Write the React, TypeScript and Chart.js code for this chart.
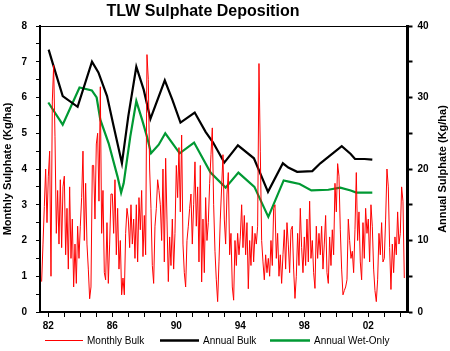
import React, { useEffect, useRef } from 'react';
import { Chart, registerables } from 'chart.js';

Chart.register(...registerables);

const FONT = '"Liberation Sans", Arial, Helvetica, sans-serif';

const TITLE = 'TLW Sulphate Deposition';
const LEFT_TITLE = 'Monthly Sulphate (Kg/ha)';
const RIGHT_TITLE = 'Annual Sulphate (Kg/ha)';
const SERIES_NAMES = ['Monthly Bulk', 'Annual Bulk', 'Annual Wet-Only'];
const SERIES_COLORS = ['#FF0000', '#000000', '#009933'];

// Monthly bulk deposition (Kg/ha), starting August 1981
const MONTHLY_START_YEAR = 1981;
const MONTHLY_START_MONTH = 8;
const monthlyBulk = [
  // 1981 (Aug-Dec)
  0.85, 1.9, 2.95, 4.0, 2.5,
  // 1982
  3.8, 4.5, 1.0, 5.9, 6.9, 4.9, 2.2, 3.4, 1.9, 3.7, 1.8, 3.5,
  // 1983
  3.8, 1.6, 2.9, 1.2, 3.5, 1.5, 2.6, 0.7, 1.9, 0.8, 2.4, 1.5,
  // 1984
  2.4, 3.2, 4.5, 2.0, 3.6, 1.9, 1.2, 0.37, 0.7, 4.1, 4.1, 2.6,
  // 1985
  4.7, 5.0, 3.1, 6.3, 2.2, 3.4, 1.1, 0.9, 2.5, 0.8, 1.9, 3.3,
  // 1986
  3.3, 2.2, 3.7, 1.6, 2.9, 1.2, 2.0, 0.48, 0.95, 0.48, 2.2, 2.9,
  // 1987
  2.6, 1.8, 3.0, 1.9, 2.6, 1.5, 3.0, 1.4, 3.2, 2.3, 3.4, 1.55,
  // 1988
  2.7, 1.6, 7.2, 6.5, 4.0, 2.9, 1.3, 0.8, 2.4, 2.9, 3.7, 3.4,
  // 1989
  3.0, 2.0, 4.0, 1.4, 4.3, 2.6, 0.85, 2.1, 1.3, 2.6, 1.2, 2.2,
  // 1990
  4.1, 3.2, 4.6, 2.8, 4.95, 1.9, 1.1, 0.7, 2.0, 2.4, 2.9, 3.3,
  // 1991
  1.9, 3.0, 4.2, 2.4, 3.5, 1.4, 4.1, 0.84, 2.6, 1.1, 3.2, 2.0,
  // 1992
  2.5, 3.6, 4.4, 5.15, 3.0, 1.7, 0.9, 0.29, 1.4, 2.6, 3.5, 4.4,
  // 1993
  2.6, 1.9, 3.3, 3.9, 1.6, 2.2, 0.7, 0.33, 2.0, 1.3, 2.2, 1.6,
  // 1994
  2.1, 3.0, 1.8, 2.7, 1.6, 2.5, 0.65, 2.0, 1.3, 2.4, 1.4, 2.2,
  // 1995
  1.9, 2.4, 6.95, 4.5, 2.0, 1.4, 0.9, 1.6, 1.1, 1.5, 1.0, 2.0,
  // 1996
  1.3, 2.9, 3.0, 1.5, 2.2, 1.0, 1.6, 0.8, 1.6, 2.3, 1.2, 2.5,
  // 1997
  1.9, 1.1, 2.3, 2.4, 1.2, 0.38, 1.0, 2.2, 1.3, 2.9, 1.8, 1.1,
  // 1998
  2.1, 1.3, 2.6, 1.4, 3.1, 1.5, 2.0, 1.1, 0.66, 2.4, 1.5, 2.2,
  // 1999
  1.6, 2.4, 1.2, 1.9, 2.7, 1.1, 0.8, 2.1, 1.3, 2.3, 1.6, 3.6,
  // 2000
  2.8, 4.15, 3.8, 2.3, 1.2, 0.48, 0.6, 0.7, 0.9, 2.6, 2.0, 1.5,
  // 2001
  1.7, 1.1, 2.3, 3.9, 2.0, 2.8, 1.4, 0.9, 2.5, 1.5, 2.9, 2.2,
  // 2002
  2.6, 1.4, 3.0, 2.4, 1.2, 0.6, 0.29, 0.9, 2.2, 1.6, 2.5, 1.4,
  // 2003
  1.5, 2.6, 4.0, 3.5, 1.8, 0.63, 1.9, 1.1, 2.1, 1.6, 2.8, 1.9,
  // 2004 (Jan-Apr)
  2.2, 3.5, 3.1, 0.95,
];

// Annual bulk deposition (Kg/ha), right axis
const annualBulkYears = [
  1982.02, 1982.3, 1982.9, 1983.83, 1984.73, 1985.13, 1985.67, 1986.08, 1986.6, 1987.0,
  1987.5, 1987.96, 1988.38, 1989.28, 1989.75, 1990.26, 1991.15, 1991.83, 1992.3, 1993.0,
  1993.85, 1994.85, 1995.73, 1996.66, 1997.0, 1997.55, 1998.5, 1999.0, 2000.34, 2000.9,
  2001.17, 2001.77, 2002.25,
];
const annualBulk = [
  36.7, 34.6, 30.2, 28.7, 35.0, 33.5, 30.2, 26.0, 20.8, 27.4,
  34.3, 31.1, 27.0, 32.4, 29.7, 26.5, 27.9, 25.2, 23.7, 20.9,
  23.3, 21.5, 16.8, 20.8, 20.2, 19.6, 19.7, 20.8, 23.2, 22.1,
  21.4, 21.4, 21.3,
];

// Annual wet-only deposition (Kg/ha), right axis
const annualWetYears = [
  1982.0, 1982.9, 1983.95, 1984.72, 1985.02, 1985.25, 1985.77, 1986.33, 1986.55, 1986.71,
  1987.12, 1987.5, 1987.86, 1988.17, 1988.42, 1988.9, 1989.31, 1990.21, 1991.11, 1992.14,
  1993.08, 1993.88, 1994.88, 1995.75, 1996.71, 1997.1, 1997.71, 1998.44, 1999.5, 2000.25,
  2000.9, 2001.25, 2002.25,
];
const annualWetOnly = [
  29.3, 26.2, 31.4, 31.0, 30.0, 26.9, 23.6, 18.9, 16.7, 18.0,
  24.5, 29.5, 26.9, 24.5, 22.2, 23.4, 25.0, 22.2, 23.7, 19.5,
  17.4, 19.5, 17.5, 13.3, 18.4, 18.2, 17.9, 17.0, 17.1, 17.4,
  17.0, 16.7, 16.7,
];

const xTickYears = [
  1982, 1983, 1984, 1985, 1986, 1987, 1988, 1989, 1990, 1991, 1992, 1993,
  1994, 1995, 1996, 1997, 1998, 1999, 2000, 2001, 2002, 2003, 2004,
];
const xLabelYears = [1982, 1986, 1990, 1994, 1998, 2002];
const X_MIN = 1981.48;
const X_MAX = 2004.45;

const decorPlugin = {
  id: 'decor',
  afterDraw(chart: any) {
    const { ctx, chartArea } = chart;
    ctx.save();
    // top frame line
    ctx.strokeStyle = '#000';
    ctx.lineWidth = 1.2;
    ctx.beginPath();
    ctx.moveTo(chartArea.left, chartArea.top + 0.5);
    ctx.lineTo(chartArea.right, chartArea.top + 0.5);
    ctx.stroke();

    // title
    ctx.fillStyle = '#000';
    ctx.font = `bold 16px ${FONT}`;
    ctx.textAlign = 'center';
    ctx.textBaseline = 'alphabetic';
    ctx.fillText(TITLE, 203, 15.5);

    // right axis title (reads bottom to top)
    ctx.save();
    ctx.translate(443, (chartArea.top + chartArea.bottom) / 2);
    ctx.rotate(-Math.PI / 2);
    ctx.font = `bold 11px ${FONT}`;
    ctx.textAlign = 'center';
    ctx.textBaseline = 'middle';
    ctx.fillText(RIGHT_TITLE, 0, 0);
    ctx.restore();

    // legend
    const items = [
      { x: 45, w: 38, lw: 1 },
      { x: 160, w: 39, lw: 2.5 },
      { x: 270, w: 40, lw: 2.5 },
    ];
    ctx.font = `10px ${FONT}`;
    ctx.textAlign = 'left';
    ctx.textBaseline = 'alphabetic';
    items.forEach((it, i) => {
      ctx.strokeStyle = SERIES_COLORS[i];
      ctx.lineWidth = it.lw;
      ctx.beginPath();
      ctx.moveTo(it.x, 340.5);
      ctx.lineTo(it.x + it.w, 340.5);
      ctx.stroke();
      ctx.fillStyle = '#000';
      ctx.fillText(SERIES_NAMES[i], it.x + it.w + 4, 343.5);
    });
    ctx.restore();
  },
};

export default function App() {
  const canvasRef = useRef<HTMLCanvasElement | null>(null);

  useEffect(() => {
    const canvas = canvasRef.current;
    if (!canvas) return;

    const monthlyPoints = monthlyBulk.map((v, i) => ({
      x: MONTHLY_START_YEAR + (MONTHLY_START_MONTH - 1 + i) / 12,
      y: v,
    }));
    const bulkPoints = annualBulk.map((v, i) => ({ x: annualBulkYears[i], y: v }));
    const wetPoints = annualWetOnly.map((v, i) => ({ x: annualWetYears[i], y: v }));

    const tickFont = { family: FONT, size: 10, weight: 'bold' as const };

    const chart = new Chart(canvas, {
      type: 'line',
      data: {
        datasets: [
          {
            label: SERIES_NAMES[0],
            data: monthlyPoints,
            borderColor: SERIES_COLORS[0],
            backgroundColor: SERIES_COLORS[0],
            borderWidth: 1,
            borderJoinStyle: 'bevel',
            pointRadius: 0,
            tension: 0,
            xAxisID: 'x',
            yAxisID: 'y',
          },
          {
            label: SERIES_NAMES[1],
            data: bulkPoints,
            borderColor: SERIES_COLORS[1],
            backgroundColor: SERIES_COLORS[1],
            borderWidth: 2.2,
            pointRadius: 0,
            tension: 0,
            xAxisID: 'x',
            yAxisID: 'y2',
          },
          {
            label: SERIES_NAMES[2],
            data: wetPoints,
            borderColor: SERIES_COLORS[2],
            backgroundColor: SERIES_COLORS[2],
            borderWidth: 2.2,
            pointRadius: 0,
            tension: 0,
            xAxisID: 'x',
            yAxisID: 'y2',
          },
        ],
      },
      options: {
        responsive: false,
        animation: false,
        events: [],
        layout: { padding: { top: 26, left: 0, right: 0, bottom: 0 } },
        plugins: {
          legend: { display: false },
          title: { display: false },
          tooltip: { enabled: false },
        },
        scales: {
          x: {
            type: 'linear',
            position: 'bottom',
            min: X_MIN,
            max: X_MAX,
            afterBuildTicks: (s: any) => {
              s.ticks = xTickYears.map((v) => ({ value: v }));
            },
            afterFit: (s: any) => {
              s.height = 39;
            },
            grid: {
              drawOnChartArea: false,
              drawTicks: true,
              tickLength: 5,
              tickColor: '#000',
              tickWidth: 1,
              color: '#000',
            },
            border: { display: true, color: '#000', width: 2 },
            ticks: {
              autoSkip: false,
              maxRotation: 0,
              padding: 3,
              color: '#000',
              font: tickFont,
              callback: (v: any) =>
                xLabelYears.includes(Number(v)) ? String(Number(v) % 100).padStart(2, '0') : '',
            },
          },
          y: {
            type: 'linear',
            position: 'left',
            min: 0,
            max: 8,
            afterFit: (s: any) => {
              s.width = 40;
            },
            grid: {
              drawOnChartArea: false,
              drawTicks: true,
              tickLength: 4,
              tickColor: '#000',
              tickWidth: 1,
              color: '#000',
            },
            border: { display: true, color: '#000', width: 2 },
            ticks: {
              stepSize: 0.5,
              autoSkip: false,
              padding: 9,
              color: '#000',
              font: tickFont,
              callback: (v: any) => (Number.isInteger(Number(v)) ? String(v) : ''),
            },
            title: {
              display: true,
              text: LEFT_TITLE,
              color: '#000',
              font: { family: FONT, size: 11, weight: 'bold' },
              padding: { top: 1, bottom: 0 },
            },
          },
          y2: {
            type: 'linear',
            position: 'right',
            min: 0,
            max: 40,
            afterFit: (s: any) => {
              s.width = 42.5;
            },
            grid: {
              drawOnChartArea: false,
              drawTicks: true,
              tickLength: 5,
              tickColor: '#000',
              tickWidth: 2,
              color: '#000',
            },
            border: { display: true, color: '#000', width: 3 },
            ticks: {
              stepSize: 5,
              autoSkip: false,
              padding: 5,
              color: '#000',
              font: tickFont,
              callback: (v: any) => (Number(v) % 10 === 0 ? String(v) : ''),
            },
          },
        },
      },
      plugins: [decorPlugin],
    });

    return () => {
      chart.destroy();
    };
  }, []);

  return (
    <div style={{ position: 'absolute', left: 0, top: 0, width: 450, height: 351 }}>
      <canvas ref={canvasRef} width={450} height={351} style={{ display: 'block' }} />
    </div>
  );
}
